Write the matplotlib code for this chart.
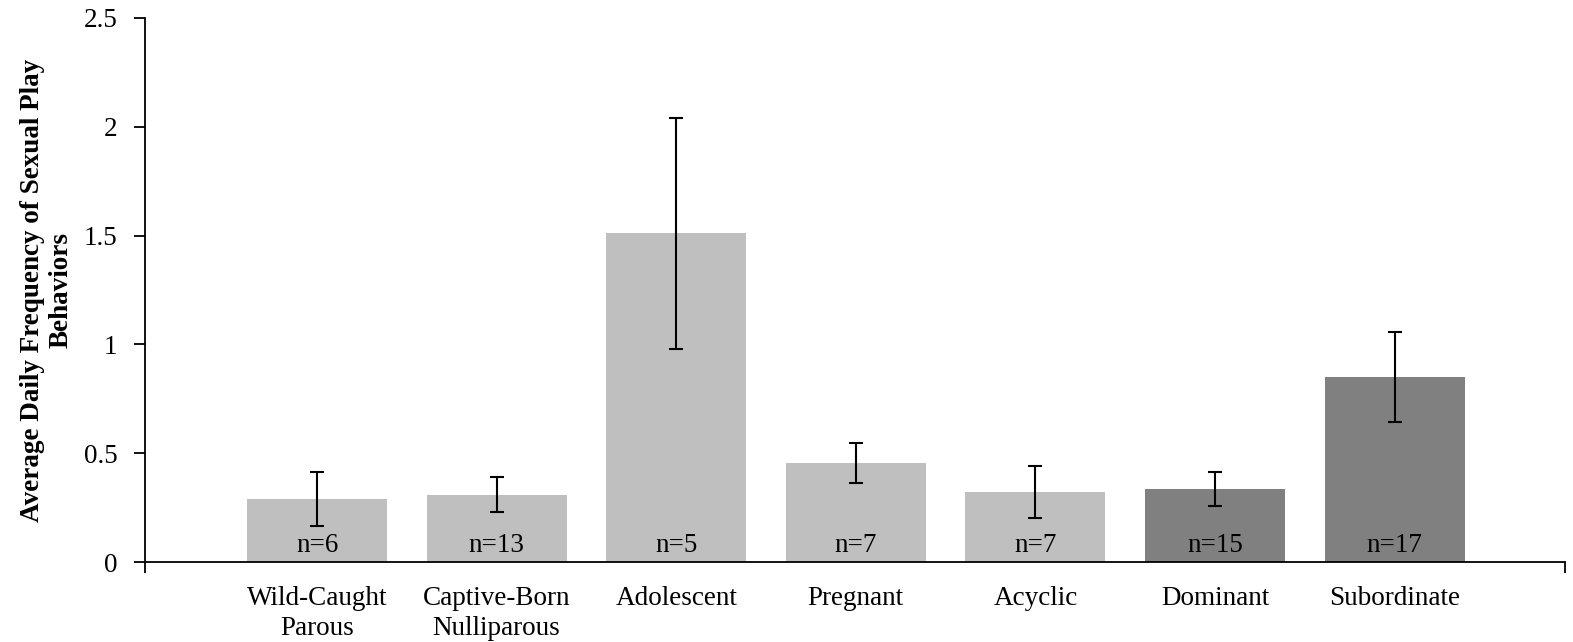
import numpy as np
import matplotlib
matplotlib.use('Agg')
import matplotlib.pyplot as plt

plt.rcParams['font.family'] = ['Liberation Serif', 'DejaVu Serif']

categories = ['Wild-Caught\nParous', 'Captive-Born\nNulliparous', 'Adolescent',
              'Pregnant', 'Acyclic', 'Dominant', 'Subordinate']
means = [0.29, 0.31, 1.51, 0.455, 0.32, 0.335, 0.85]
errors = [0.125, 0.08, 0.53, 0.09, 0.12, 0.078, 0.207]
sample_sizes = [6, 13, 5, 7, 7, 15, 17]
bar_colors = ['#BFBFBF'] * 5 + ['#808080'] * 2

fig = plt.figure(figsize=(15.73, 6.42), dpi=100)
ax = fig.add_axes([0.0922, 0.1246, 0.9028, 0.8474])

x = np.arange(len(categories))
ax.bar(x, means, width=0.78, color=bar_colors, zorder=2)
ax.errorbar(x, means, yerr=errors, fmt='none', ecolor='black',
            elinewidth=1.5, capsize=5, capthick=1.5, zorder=3)

for xi, n in zip(x, sample_sizes):
    ax.text(xi, 0.045, f'n={n}', ha='center', va='baseline', fontsize=19.5)

ax.set_xlim(-0.958, 6.95)
ax.set_ylim(0, 2.5)
ax.set_yticks([0, 0.5, 1, 1.5, 2, 2.5])
ax.set_yticklabels(['0', '0.5', '1', '1.5', '2', '2.5'], fontsize=19.5)
ax.set_xticks(x)
ax.set_xticklabels(categories, fontsize=19.5, linespacing=1.3)
ax.tick_params(axis='x', length=0, pad=17)
ax.tick_params(axis='y', direction='out', length=8, width=1.3, pad=12)

# tick marks at the ends of the category axis
ax.set_xticks([-0.958, 6.95], minor=True)
ax.tick_params(axis='x', which='minor', direction='out', length=8, width=1.3)

for side in ['top', 'right']:
    ax.spines[side].set_visible(False)
for side in ['left', 'bottom']:
    ax.spines[side].set_linewidth(1.3)

ax.set_ylabel('Average Daily Frequency of Sexual Play\nBehaviors',
              fontsize=19.5, fontweight='bold', labelpad=7, linespacing=1.2)

plt.savefig('out.png', dpi=100)
plt.close()
